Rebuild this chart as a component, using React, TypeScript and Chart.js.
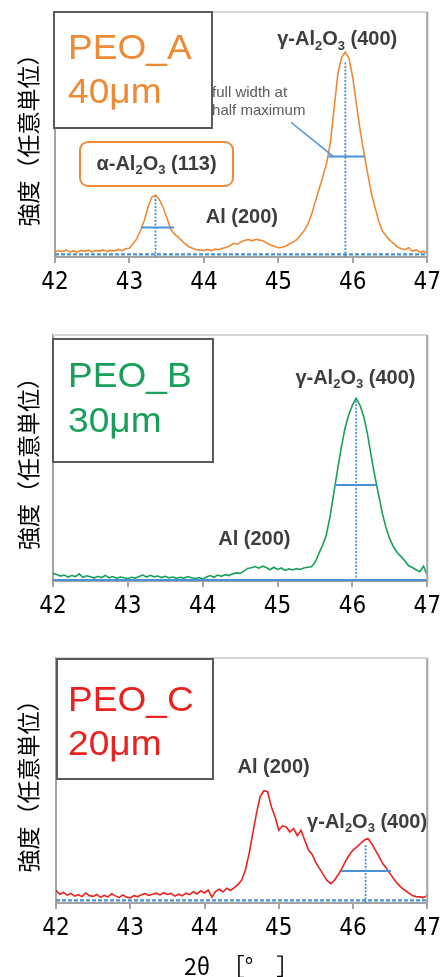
import React, { useEffect, useRef } from "react";
import { Chart, registerables } from "chart.js";

Chart.register(...registerables);

// ---------- data ----------
const thetaDeg = [
  42.0, 42.05, 42.1, 42.15, 42.2, 42.25, 42.3, 42.35, 42.4, 42.45,
  42.5, 42.55, 42.6, 42.65, 42.7, 42.75, 42.8, 42.85, 42.9, 42.95,
  43.0, 43.05, 43.1, 43.15, 43.2, 43.25, 43.3, 43.35, 43.4, 43.45,
  43.5, 43.55, 43.6, 43.65, 43.7, 43.75, 43.8, 43.85, 43.9, 43.95,
  44.0, 44.05, 44.1, 44.15, 44.2, 44.25, 44.3, 44.35, 44.4, 44.45,
  44.5, 44.55, 44.6, 44.65, 44.7, 44.75, 44.8, 44.85, 44.9, 44.95,
  45.0, 45.05, 45.1, 45.15, 45.2, 45.25, 45.3, 45.35, 45.4, 45.45,
  45.5, 45.55, 45.6, 45.65, 45.7, 45.75, 45.8, 45.85, 45.9, 45.95,
  46.0, 46.05, 46.1, 46.15, 46.2, 46.25, 46.3, 46.35, 46.4, 46.45,
  46.5, 46.55, 46.6, 46.65, 46.7, 46.75, 46.8, 46.85, 46.9, 46.95,
  47.0,
];

const intensityA = [
  2.0, 2.6, 2.2, 2.9, 2.1, 2.5, 2.0, 2.7, 2.3, 2.8,
  2.1, 2.6, 2.4, 2.9, 2.2, 2.7, 2.5, 3.1, 2.6, 3.4,
  3.6, 5.5, 7.5, 10.9, 15.0, 20.4, 24.5, 25.2, 23.5, 20.4,
  16.3, 11.6, 9.5, 8.2, 6.8, 5.2, 4.1, 3.6, 3.0, 2.8,
  2.7, 3.1, 2.6, 3.2, 3.0, 3.6, 3.9, 4.6, 5.6, 5.2,
  6.1, 6.8, 7.1, 6.6, 7.2, 6.9, 6.5, 5.6, 4.8, 4.3,
  3.8, 4.0, 4.4, 5.4, 6.1, 7.2, 9.0, 10.9, 13.6, 17.8,
  23.0, 28.0, 33.0, 38.5, 47.0, 61.0, 75.0, 81.5, 83.7, 81.0,
  73.0, 62.0, 51.5, 42.5, 34.0, 26.0, 20.0, 14.5, 10.5, 8.5,
  6.8, 5.5, 4.1, 3.4, 3.0, 3.8, 2.4, 2.9, 2.0, 2.3,
  1.6,
];

const intensityB = [
  3.1, 2.6, 2.0, 2.4, 1.6, 2.2, 1.8, 2.9, 1.5, 2.1,
  1.7, 1.2, 1.9, 1.4, 2.3, 1.3, 1.8, 1.1, 1.6, 1.3,
  1.0, 1.5, 1.2, 1.8, 2.4, 1.6, 2.3, 1.7, 2.0, 1.4,
  1.9, 1.3, 1.6, 1.1, 1.5, 1.2, 1.8, 1.3, 1.0, 1.4,
  0.8, 1.6, 2.2, 1.5, 2.4, 1.9, 2.6, 2.2, 2.9, 3.3,
  3.1, 4.0, 5.1, 5.4, 5.9, 5.2, 6.0, 5.5, 4.6, 5.6,
  4.7, 5.3, 4.3, 4.9, 4.5, 5.0, 4.7, 5.3, 5.6, 5.8,
  7.5, 11.0, 14.5, 18.5, 26.0, 35.5, 45.0, 54.0, 62.0, 67.5,
  71.5, 74.3, 71.5, 67.0, 60.0, 51.0, 42.5, 35.0, 27.5, 21.5,
  17.0, 13.8, 11.5, 9.9, 8.2, 6.2, 5.5, 4.6, 3.8, 6.0,
  2.4,
];

const intensityC = [
  5.2, 3.6, 4.3, 3.2, 3.9, 2.8, 3.4, 2.6, 4.1, 3.0,
  2.7, 3.5, 2.3, 3.1, 2.5, 3.8, 2.9, 2.2, 3.3, 2.4,
  2.1, 3.0, 2.6, 3.4, 3.8, 3.1, 3.6, 4.0, 3.3, 4.2,
  3.5, 3.9, 2.8, 3.6, 2.9, 4.0, 3.4, 4.6, 3.7, 5.0,
  4.1, 5.3, 2.4, 4.8, 5.6, 4.5, 6.0, 5.1, 6.3, 7.5,
  9.3, 13.4, 20.0, 28.4, 36.6, 43.4, 45.8, 45.4, 39.3, 35.2,
  29.7, 31.5, 31.0, 29.0, 30.4, 27.5, 29.7, 25.6, 21.6, 19.8,
  16.5, 14.0, 11.6, 9.2, 7.9, 9.3, 11.5, 14.0, 17.1, 19.6,
  21.6, 22.8, 24.3, 25.6, 26.3, 24.3, 21.6, 19.0, 16.1, 14.2,
  12.0, 9.8, 7.9, 6.3, 5.2, 4.0, 3.1, 2.6, 2.5, 2.2,
  3.1,
];

const xTickLabels = ["42", "43", "44", "45", "46", "47"];
const yTitle = "強度（任意単位）";
const xTitle = "2θ　［°　］";

const sampleTextA = ["PEO_A", "40μm"];
const sampleTextB = ["PEO_B", "30μm"];
const sampleTextC = ["PEO_C", "20μm"];

// peak markers (θ, intensity)
const baselineA = [1.1, 1.1];
const baselineB = [0.4, 0.4];
const baselineC = [1.1, 1.1];
const peakLinesA = [
  { x: 43.35, top: 24.8 },
  { x: 45.9, top: 80.0 },
];
const fwhmA = [
  { from: 43.16, to: 43.6, y: 12.0 },
  { from: 45.67, to: 46.16, y: 41.0 },
];
const pointerA = [
  { x: 45.17, y: 55.0 },
  { x: 45.74, y: 41.0 },
];
const peakLinesB = [{ x: 46.05, top: 74.0 }];
const fwhmB = [{ from: 45.77, to: 46.32, y: 39.0 }];
const peakLinesC = [{ x: 46.17, top: 24.3 }];
const fwhmC = [{ from: 45.84, to: 46.51, y: 13.1 }];

// ---------- styles ----------
const ORANGE = "#ee8a34";
const GREEN = "#18a05a";
const RED = "#e8221e";
const BLUE = "#4a92d8";
const AXIS_GRAY = "#a3a3a3";
const LABEL_FONT = "'Liberation Sans', Arial, sans-serif";
const JP_FONT = "'Noto Sans CJK JP', 'Noto Sans', sans-serif";
const TICK_FONT = "'Liberation Sans Narrow', 'DejaVu Sans Condensed', 'Noto Sans CJK JP', sans-serif";

type Part = [string, boolean];
const gammaLabel: Part[] = [["γ-Al", false], ["2", true], ["O", false], ["3", true], [" (400)", false]];
const alphaLabel: Part[] = [["α-Al", false], ["2", true], ["O", false], ["3", true], [" (113)", false]];
const alLabel: Part[] = [["Al (200)", false]];

function drawParts(ctx: CanvasRenderingContext2D, parts: Part[], cx: number, cy: number, size: number) {
  const main = `bold ${size}px ${LABEL_FONT}`;
  const sub = `bold ${Math.round(size * 0.66)}px ${LABEL_FONT}`;
  let w = 0;
  for (const [t, s] of parts) {
    ctx.font = s ? sub : main;
    w += ctx.measureText(t).width;
  }
  let x = cx - w / 2;
  ctx.textAlign = "left";
  ctx.textBaseline = "middle";
  ctx.fillStyle = "#3d3d3d";
  for (const [t, s] of parts) {
    ctx.font = s ? sub : main;
    ctx.fillText(t, x, s ? cy + size * 0.3 : cy);
    x += ctx.measureText(t).width;
  }
}

type PanelCfg = {
  top: number;
  height: number;
  padTop: number;
  padRight: number;
  yWidth: number;
  xHeight: number;
  color: string;
  series: number[];
  baseline: number[];
  baselineDash: number[];
  peaks: { x: number; top: number }[];
  fwhm: { from: number; to: number; y: number }[];
  pointer?: { x: number; y: number }[];
  sample: string[];
  box: { dx: number; dy: number; w: number; h: number; tx: number; b1: number; b2: number };
  labels: { parts: Part[]; x: number; y: number }[];
  notes?: { text: string; x: number; y: number }[];
  alphaBox?: { dx: number; dy: number; w: number; h: number };
  xTitle?: string;
};

const panels: PanelCfg[] = [
  {
    top: 0, height: 300, padTop: 12, padRight: 16, yWidth: 55, xHeight: 43,
    color: ORANGE, series: intensityA, baseline: baselineA, baselineDash: [4, 2],
    peaks: peakLinesA, fwhm: fwhmA, pointer: pointerA, sample: sampleTextA,
    box: { dx: -1, dy: 0, w: 158, h: 116, tx: 14, b1: 47, b2: 91 },
    labels: [
      { parts: gammaLabel, x: 45.79, y: 88.6 },
      { parts: alLabel, x: 44.51, y: 16.3 },
    ],
    notes: [
      { text: "full width at", x: 44.11, y: 65.3 },
      { text: "half maximum", x: 44.11, y: 58.0 },
    ],
    alphaBox: { dx: 25, dy: 130, w: 153, h: 44 },
  },
  {
    top: 300, height: 324, padTop: 35, padRight: 14, yWidth: 53, xHeight: 43,
    color: GREEN, series: intensityB, baseline: baselineB, baselineDash: [],
    peaks: peakLinesB, fwhm: fwhmB, sample: sampleTextB,
    box: { dx: 0, dy: 4, w: 160, h: 123, tx: 15, b1: 48, b2: 93 },
    labels: [
      { parts: gammaLabel, x: 46.04, y: 82.5 },
      { parts: alLabel, x: 44.69, y: 16.7 },
    ],
  },
  {
    top: 624, height: 353, padTop: 34, padRight: 15, yWidth: 56, xHeight: 74,
    color: RED, series: intensityC, baseline: baselineC, baselineDash: [4, 2],
    peaks: peakLinesC, fwhm: fwhmC, sample: sampleTextC,
    box: { dx: 1, dy: 1, w: 156, h: 120, tx: 11, b1: 52, b2: 96 },
    labels: [
      { parts: alLabel, x: 44.93, y: 55.5 },
      { parts: gammaLabel, x: 46.19, y: 32.7 },
    ],
    xTitle: xTitle,
  },
];

function buildDatasets(cfg: PanelCfg) {
  const ds: any[] = [];
  ds.push({
    data: thetaDeg.map((x, i) => ({ x, y: cfg.series[i] })),
    borderColor: cfg.color, borderWidth: 1.6, pointRadius: 0, tension: 0, order: 2,
  });
  ds.push({
    data: [{ x: 42, y: cfg.baseline[0] }, { x: 47, y: cfg.baseline[1] }],
    borderColor: BLUE, borderWidth: 2.2, borderDash: cfg.baselineDash, pointRadius: 0, order: 1,
  });
  for (const p of cfg.peaks) {
    ds.push({
      data: [{ x: p.x, y: 0 }, { x: p.x, y: p.top }],
      borderColor: BLUE, borderWidth: 1.8, borderDash: [2, 1.5], pointRadius: 0, order: 0,
    });
  }
  for (const f of cfg.fwhm) {
    ds.push({
      data: [{ x: f.from, y: f.y }, { x: f.to, y: f.y }],
      borderColor: BLUE, borderWidth: 2, pointRadius: 0, order: 0,
    });
  }
  if (cfg.pointer) {
    ds.push({
      data: cfg.pointer.map((p) => ({ x: p.x, y: p.y })),
      borderColor: BLUE, borderWidth: 1.5, pointRadius: 0, order: 0,
    });
  }
  return ds;
}

function makePlugin(cfg: PanelCfg) {
  return {
    id: "panelDecor",
    afterDraw(chart: any) {
      const { ctx, chartArea, scales } = chart;
      const xs = scales.x;
      const ys = scales.y;
      ctx.save();
      // frame: top light, right gray
      ctx.lineWidth = 2;
      ctx.strokeStyle = "#d6d6d6";
      ctx.beginPath();
      ctx.moveTo(chartArea.left, chartArea.top);
      ctx.lineTo(chartArea.right, chartArea.top);
      ctx.stroke();
      ctx.strokeStyle = AXIS_GRAY;
      ctx.beginPath();
      ctx.moveTo(chartArea.right, chartArea.top);
      ctx.lineTo(chartArea.right, chartArea.bottom);
      ctx.stroke();

      // notes
      if (cfg.notes) {
        ctx.font = `15px ${LABEL_FONT}`;
        ctx.fillStyle = "#5a5a5a";
        ctx.textAlign = "left";
        ctx.textBaseline = "alphabetic";
        for (const n of cfg.notes) {
          ctx.fillText(n.text, xs.getPixelForValue(n.x), ys.getPixelForValue(n.y));
        }
      }
      // labels
      for (const l of cfg.labels) {
        drawParts(ctx, l.parts, xs.getPixelForValue(l.x), ys.getPixelForValue(l.y), 20);
      }
      // alpha box
      if (cfg.alphaBox) {
        const b = cfg.alphaBox;
        const bx = chartArea.left + b.dx;
        const by = chartArea.top + b.dy;
        ctx.beginPath();
        (ctx as any).roundRect(bx, by, b.w, b.h, 8);
        ctx.fillStyle = "#fff";
        ctx.fill();
        ctx.lineWidth = 2;
        ctx.strokeStyle = ORANGE;
        ctx.stroke();
        drawParts(ctx, alphaLabel, bx + b.w / 2, by + b.h / 2, 20);
      }
      // sample box
      const bx = chartArea.left + cfg.box.dx;
      const by = chartArea.top + cfg.box.dy;
      ctx.fillStyle = "#fff";
      ctx.fillRect(bx, by, cfg.box.w, cfg.box.h);
      ctx.lineWidth = 2;
      ctx.strokeStyle = "#5a5a5a";
      ctx.strokeRect(bx, by, cfg.box.w, cfg.box.h);
      ctx.fillStyle = cfg.color;
      ctx.textAlign = "left";
      ctx.textBaseline = "alphabetic";
      ctx.font = `35px ${LABEL_FONT}`;
      ctx.save();
      ctx.translate(bx + cfg.box.tx, by + cfg.box.b1);
      ctx.scale(1.06, 1);
      ctx.fillText(cfg.sample[0], 0, 0);
      ctx.restore();
      ctx.save();
      ctx.translate(bx + cfg.box.tx, by + cfg.box.b2);
      ctx.scale(1.06, 1);
      ctx.fillText(cfg.sample[1], 0, 0);
      ctx.restore();
      ctx.restore();
    },
  };
}

function Panel({ cfg }: { cfg: PanelCfg }) {
  const ref = useRef<HTMLCanvasElement | null>(null);
  useEffect(() => {
    if (!ref.current) return;
    const chart = new Chart(ref.current, {
      type: "line",
      data: { datasets: buildDatasets(cfg) },
      options: {
        responsive: false,
        animation: false,
        events: [],
        layout: { padding: { top: cfg.padTop, right: cfg.padRight, left: 0, bottom: 0 } },
        plugins: { legend: { display: false }, tooltip: { enabled: false } },
        scales: {
          x: {
            type: "linear",
            min: 42,
            max: 47,
            afterFit: (s: any) => { s.height = cfg.xHeight; },
            ticks: {
              stepSize: 1,
              autoSkip: false,
              maxRotation: 0,
              padding: 5,
              color: "#000",
              font: { family: TICK_FONT, size: 24 },
              callback: (_v: any, i: number) => xTickLabels[i],
            },
            grid: { display: true, drawOnChartArea: false, drawTicks: true, tickLength: 6, color: AXIS_GRAY, lineWidth: 2 },
            border: { display: true, color: AXIS_GRAY, width: 2 },
            title: cfg.xTitle
              ? { display: true, text: cfg.xTitle, color: "#000", font: { family: JP_FONT, size: 23 }, padding: { top: 0, bottom: -3 } }
              : { display: false },
          },
          y: {
            min: 0,
            max: 100,
            afterFit: (s: any) => { s.width = cfg.yWidth; },
            ticks: { display: false },
            grid: { display: false },
            border: { display: true, color: AXIS_GRAY, width: 2 },
            title: { display: true, text: yTitle, color: "#000", font: { family: JP_FONT, size: 23 }, padding: { top: 14, bottom: 0 } },
          },
        },
      } as any,
      plugins: [makePlugin(cfg)],
    });
    return () => chart.destroy();
  }, [cfg]);
  return (
    <canvas
      ref={ref}
      width={446}
      height={cfg.height}
      style={{ position: "absolute", left: 0, top: cfg.top, display: "block" }}
    />
  );
}

export default function App() {
  useEffect(() => {
    document.body.style.margin = "0";
  }, []);
  return (
    <div style={{ position: "absolute", left: 0, top: 0, width: 446, height: 977, background: "#fff", overflow: "hidden" }}>
      {panels.map((p, i) => (
        <Panel key={i} cfg={p} />
      ))}
    </div>
  );
}
